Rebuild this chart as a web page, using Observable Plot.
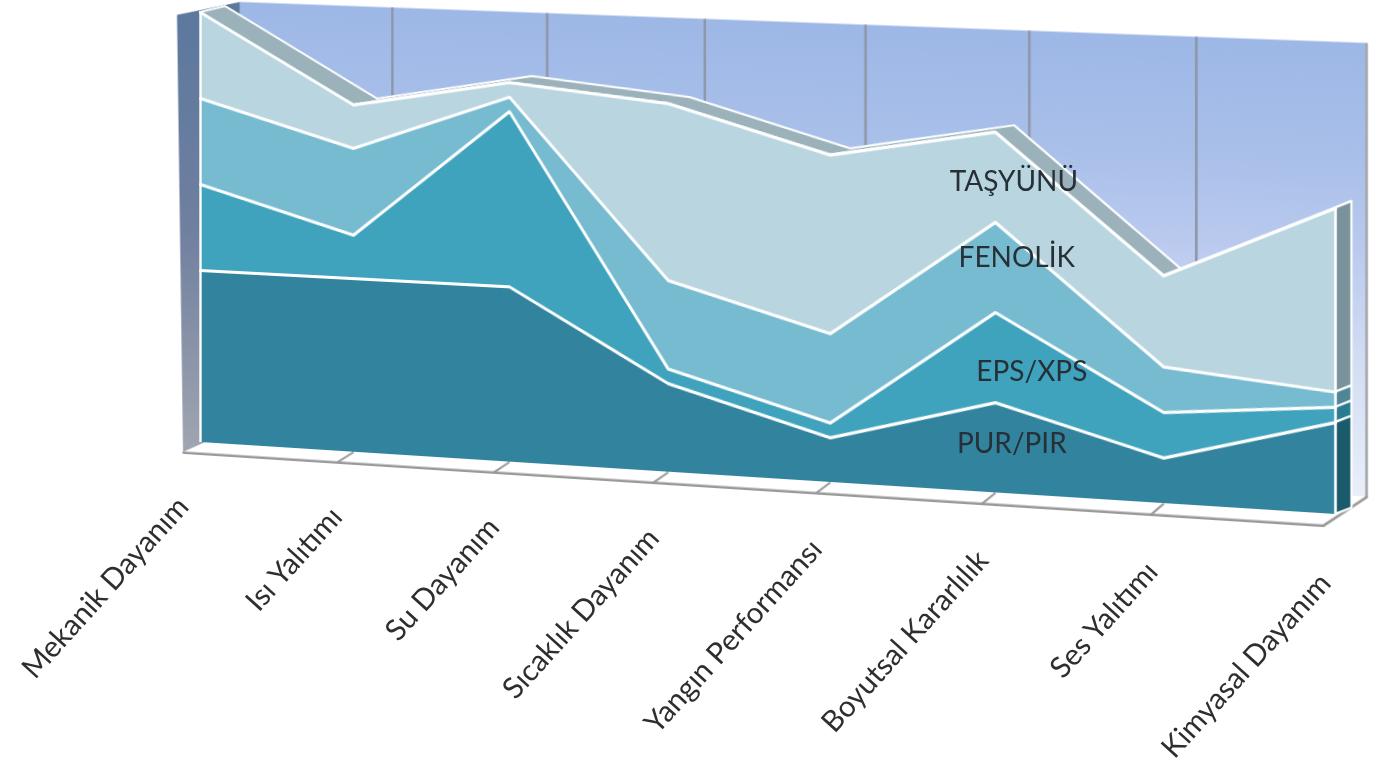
<!DOCTYPE html>
<html lang="tr">
<head>
<meta charset="utf-8">
<script src="https://cdn.jsdelivr.net/npm/d3@7"></script>
<script src="https://cdn.jsdelivr.net/npm/@observablehq/plot@0.6"></script>
<style>
html,body{margin:0;padding:0;background:#fff;overflow:hidden}
#stage{position:relative;width:1384px;height:776px;filter:blur(0.5px)}
#stage svg{position:absolute;left:0;top:0;overflow:visible;background:transparent}
</style>
</head>
<body>
<div id="stage"></div>
<script>
// Data: scores per property, one list per material (stacking order bottom to top)
const categories = ["Mekanik Dayanım","Isı Yalıtımı","Su Dayanım","Sıcaklık Dayanım","Yangın Performansı","Boyutsal Kararlılık","Ses Yalıtımı","Kimyasal Dayanım"];
const materials = ["PUR/PIR","EPS/XPS","FENOLİK","TAŞYÜNÜ"];
const purPir  = [4,4,4,2,1,2,1,2];
const epsXps  = [2,1,4,0.33,0.33,2,1,0.33];
const fenolik = [2,2,0.33,2,2,2,1,0.33];
const tasyunu = [2,1,0.33,4,4,2,2,4];
const seriesValues = [purPir,epsXps,fenolik,tasyunu];

const faceColors = ["#31839e","#3fa3bd","#77bbd0","#b9d5e0"];
const capColors  = ["#1a5a6b","#2a7a90","#4f8595","#7a929c"];
const W = 1384, H = 776;
const last = categories.length - 1;

// Long table and running tops
const rows = [];
const layers = materials.map(() => []);
categories.forEach((c,i) => {
  let base = 0;
  materials.forEach((m,k) => {
    const v = seriesValues[k][i];
    const row = {i, category:c, material:m, k, value:v, low:base, high:base+v};
    rows.push(row); layers[k].push(row);
    base += v;
  });
});

// Planes of the box, in data units of the front plane
const wallX  = i => 0.263 + 0.988*i;     // back wall
const backX  = i => 0.165 + 0.99*i;      // rear face of the extruded areas
const floorX = i => -0.112 + 1.006*i;    // front edge of the floor
const wallLow = 0.42, wallTop = 10.27, floorLow = -0.26, lift = 0.16;
const idx = d3.range(categories.length);
const wallRows = idx.map(i => ({x:wallX(i)}));
const topRows = layers[3];

// Perspective of the whole scene
const persp = {a:0.9236,c:15.3,d:0.034,f:-6.8,g:-5.727e-5,w:1.01145};
const project = (x,y) => {
  const w = persp.g*x + persp.w;
  return [(persp.a*x+persp.c)/w,(y+persp.d*x+persp.f)/w];
};

const defs = () => {
  const s = d3.create("svg:defs");
  const add = (id,stops) => {
    const g = s.append("linearGradient").attr("id",id).attr("x1",0).attr("x2",0).attr("y1",0).attr("y2",1);
    stops.forEach(([o,c]) => g.append("stop").attr("offset",o).attr("stop-color",c));
  };
  add("wallFill",[[0,"#9db7e6"],[0.25,"#a8bfe9"],[0.45,"#b9c9ee"],[0.7,"#d2ddf3"],[1,"#e9eff9"]]);
  add("sideFill",[[0,"#5b789e"],[0.5,"#6f7f9f"],[1,"#a0a5b0"]]);
  return s.node();
};

const grey = "#9a9a9a";
const main = Plot.plot({
  width:W, height:H,
  marginLeft:200, marginRight:W-1335, marginTop:12, marginBottom:H-442,
  x:{domain:[0,last],axis:null},
  y:{domain:[0,10],axis:null},
  marks:[
    defs,
    // back wall and its grid
    Plot.areaY(wallRows,{x:"x",y1:wallLow,y2:wallTop,fill:"url(#wallFill)"}),
    Plot.ruleX(idx.slice(1,-1),{x:wallX,y1:wallLow,y2:wallTop,stroke:"#8e96a8",strokeWidth:2.5}),
    Plot.ruleX([last],{x:wallX,y1:wallLow,y2:wallTop,stroke:"#a6a8ae",strokeWidth:2.5}),
    // left side wall
    Plot.area([0,1],{x1:d=>d?wallX(0):-0.152,y1:d=>d?wallTop:9.91,x2:d=>d?wallX(0):floorX(0),y2:d=>d?wallLow:floorLow,fill:"url(#sideFill)"}),
    // floor
    Plot.area([0,1],{x1:d=>d?floorX(last):floorX(0),y1:floorLow,x2:d=>d?wallX(last):wallX(0),y2:wallLow,fill:"#fff"}),
    Plot.line([[floorX(0),floorLow],[floorX(last),floorLow],[wallX(last),wallLow]],{stroke:grey,strokeWidth:2.5}),
    Plot.link(idx.slice(1,-1),{x1:floorX,y1:floorLow,x2:i=>i,y2:0,stroke:grey,strokeWidth:2}),
    // top strip of the extrusion
    Plot.area(topRows,{x1:"i",y1:"high",x2:d=>backX(d.i),y2:d=>d.high+lift,fill:"#9bb2bb",stroke:"#fff",strokeWidth:2}),
    // right end caps
    ...materials.map((m,k) => Plot.area([0,1],{
      x1:last, y1:d=>d?layers[k][last].high:layers[k][last].low,
      x2:backX(last), y2:d=>(d?layers[k][last].high:layers[k][last].low)+lift,
      fill:capColors[k], stroke:"#fff", strokeWidth:2
    })),
    // stacked faces
    Plot.areaY(rows,{x:"i",y:"value",z:"material",fill:d=>faceColors[d.k],order:null}),
    Plot.lineY(rows,Plot.stackY2({x:"i",y:"value",z:"material",stroke:"#fff",strokeWidth:3,order:null})),
    Plot.ruleX([0,last],{x:d=>d,y1:0,y2:d=>topRows[d].high,stroke:"#fff",strokeWidth:2.5})
  ]
});
main.style.transformOrigin = "0 0";
main.style.transform = `matrix3d(${persp.a},${persp.d},0,${persp.g},0,1,0,0,0,0,1,0,${persp.c},${persp.f},0,${persp.w})`;

// Horizontal and slanted text sits in an unskewed layer, anchored through the same projection
const sx = main.scale("x"), sy = main.scale("y");
const labelRows = categories.map((c,i) => {
  const [x,y] = project(sx.apply(i*1.008-0.115), sy.apply(-1.4));
  return {x,y,c};
});
const seriesAt = 5;
const seriesNudgeX = [-2,18,3,0];
const seriesNudgeY = [-5,13,-10,4];
const seriesRows = materials.map((m,k) => {
  const r = layers[k][seriesAt];
  const [x,y] = project(sx.apply(seriesAt+0.11), sy.apply((r.low+r.high)/2));
  return {x:x+seriesNudgeX[k],y:y+seriesNudgeY[k],m};
});
const labels = Plot.plot({
  width:W, height:H, margin:0,
  x:{type:"identity",axis:null}, y:{type:"identity",axis:null},
  marks:[
    Plot.text(labelRows,{x:"x",y:"y",text:"c",rotate:-48,textAnchor:"end",fontSize:29.5,fill:"#2e2e2e",fontFamily:"Lato"}),
    Plot.text(seriesRows,{x:"x",y:"y",text:"m",fontSize:28,fill:"#263036",fontFamily:"Lato"})
  ]
});
const stage = document.getElementById("stage");
stage.append(main,labels);
</script>
</body>
</html>
